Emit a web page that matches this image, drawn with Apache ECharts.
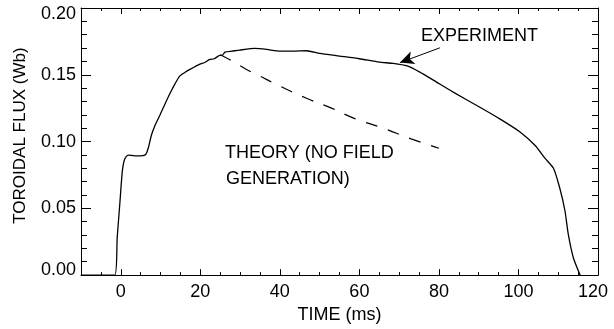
<!DOCTYPE html>
<html><head><meta charset="utf-8">
<script src="https://cdn.jsdelivr.net/npm/echarts@6/dist/echarts.min.js"></script>
<style>html,body{margin:0;padding:0;background:#fff}#c{width:614px;height:329px}</style>
</head><body><div id="c"></div>
<script>
// Experiment: toroidal flux (Wb) vs time (ms)
const expTime = [-10, -1.5, -0.9, -0.25, 0.4, 1.0, 1.85, 3.5, 5.6, 6.3, 6.9, 7.7, 8.55, 9.8, 11.1, 12.3, 13.6, 14.8, 16.1, 17.4, 19.9, 21.0, 22.4, 23.5, 24.9, 25.5, 26.2, 28.0, 29.9, 33.7, 36.7, 40.0, 43.4, 46.7, 50.0, 55.0, 60.0, 65.0, 68.5, 72.0, 75.2, 78.6, 83.6, 90.3, 95.3, 100.4, 104.2, 106.7, 108.8, 110.4, 111.7, 112.5, 113.8, 115.5];
const expFlux = [0, 0, 0.028, 0.053, 0.078, 0.087, 0.0899, 0.0893, 0.0895, 0.0904, 0.095, 0.1047, 0.1117, 0.1195, 0.128, 0.1356, 0.143, 0.149, 0.1517, 0.154, 0.158, 0.159, 0.1615, 0.162, 0.1645, 0.1645, 0.167, 0.1677, 0.1685, 0.1697, 0.169, 0.1677, 0.1677, 0.168, 0.166, 0.164, 0.162, 0.1595, 0.1585, 0.1566, 0.152, 0.146, 0.137, 0.1257, 0.117, 0.1072, 0.097, 0.0874, 0.080, 0.065, 0.048, 0.031, 0.013, 0];
// Theory (no field generation)
const theoryTime = [25, 28.2, 31.6, 35, 39, 47, 53, 59, 66, 73, 80];
const theoryFlux = [0.165, 0.160, 0.154, 0.149, 0.143, 0.132, 0.125, 0.117, 0.110, 0.102, 0.095];
// Arrow annotation (tail -> head), data coords
const arrowTail = [80.25, 0.1702];
const arrowHead = [70.2, 0.1591];
// Tick labels
const xTickLabels = ['0', '20', '40', '60', '80', '100', '120'];
const yTickLabels = ['0.00', '0.05', '0.10', '0.15', '0.20'];
const xAxisName = 'TIME (ms)';
const yAxisName = 'TOROIDAL FLUX (Wb)';
const notes = ['EXPERIMENT', 'THEORY (NO FIELD', 'GENERATION)'];

const FONT = '"Liberation Sans", Arial, Helvetica, sans-serif';
const BLACK = '#000';

const chart = echarts.init(document.getElementById('c'), null, {renderer: 'canvas'});

function xAxisBase(pos, showLabel) {
  return {
    type: 'value', position: pos, min: -10, max: 120, splitNumber: 6,
    axisLine: {show: true, onZero: false, lineStyle: {color: BLACK, width: 1}},
    axisTick: {show: true, inside: true, length: 6, lineStyle: {color: BLACK, width: 1}},
    minorTick: {show: true, splitNumber: 4, length: 3, lineStyle: {color: BLACK, width: 1}},
    splitLine: {show: false},
    axisLabel: {
      show: showLabel, showMinLabel: false, color: BLACK, fontSize: 18, fontFamily: FONT, margin: 8,
      formatter: function (v) {
        const i = Math.round(v / 20);
        if (Math.abs(v - i * 20) > 1e-6 || i < 0 || i >= xTickLabels.length) return '';
        const s = xTickLabels[i];
        return i === xTickLabels.length - 1 ? '{r|' + s + '}' : s;
      },
      rich: {r: {fontSize: 18, fontFamily: FONT, color: BLACK, padding: [0, 10, 0, 0]}}
    }
  };
}
function yAxisBase(pos, showLabel) {
  return {
    type: 'value', position: pos, min: 0, max: 0.2, interval: 0.05,
    axisLine: {show: true, onZero: false, lineStyle: {color: BLACK, width: 1}},
    axisTick: {show: true, inside: true, length: 10, lineStyle: {color: BLACK, width: 1}},
    minorTick: {show: true, splitNumber: 5, length: 6, lineStyle: {color: BLACK, width: 1}},
    splitLine: {show: false},
    axisLabel: {
      show: showLabel, color: BLACK, fontSize: 18, fontFamily: FONT, margin: 5,
      formatter: function (v) {
        const i = Math.round(v / 0.05);
        const s = yTickLabels[i];
        if (i === yTickLabels.length - 1) return '{t|' + s + '}';
        if (i === 0) return '{b|' + s + '}';
        return s;
      },
      rich: {
        t: {fontSize: 18, fontFamily: FONT, color: BLACK, padding: [13, 0, 0, 0]},
        b: {fontSize: 18, fontFamily: FONT, color: BLACK, padding: [0, 0, 10, 0]}
      }
    }
  };
}

const xBottom = Object.assign(xAxisBase('bottom', true), {
  name: xAxisName, nameLocation: 'middle', nameGap: 26,
  nameTextStyle: {color: BLACK, fontSize: 18, fontFamily: FONT}
});
const xTop = xAxisBase('top', false);
const yLeft = Object.assign(yAxisBase('left', true), {
  name: yAxisName, nameLocation: 'middle', nameGap: 52, nameRotate: 90,
  nameTextStyle: {color: BLACK, fontSize: 17, fontFamily: FONT, padding: [0, 0, 0, 12]}
});
const yRight = yAxisBase('right', false);

const option = {
  animation: false,
  backgroundColor: '#fff',
  grid: {left: 81, right: 16, top: 8, bottom: 52, containLabel: false},
  xAxis: [xBottom, xTop],
  yAxis: [yLeft, yRight],
  series: [
    {
      name: 'Experiment', type: 'line', xAxisIndex: 0, yAxisIndex: 0,
      data: expTime.map((t, i) => [t, expFlux[i]]),
      showSymbol: false, symbol: 'none', smooth: 0.2,
      lineStyle: {color: BLACK, width: 1.3},
      markLine: {
        silent: true, symbol: ['none', 'arrow'], symbolSize: [10, 14],
        label: {show: false},
        lineStyle: {color: BLACK, width: 1, type: 'solid'},
        data: [[{coord: arrowTail}, {coord: arrowHead}]]
      }
    },
    {
      name: 'Theory', type: 'line', xAxisIndex: 0, yAxisIndex: 0,
      data: theoryTime.map((t, i) => [t, theoryFlux[i]]),
      showSymbol: false, symbol: 'none', smooth: true,
      lineStyle: {color: BLACK, width: 1.2, type: [12, 11]}
    }
  ],
  graphic: [
    {type: 'text', x: 421, y: 36.5, style: {text: notes[0], fill: BLACK, font: '18px ' + FONT, textAlign: 'left', textVerticalAlign: 'middle'}},
    {type: 'text', x: 225, y: 153.3, style: {text: notes[1], fill: BLACK, font: '18px ' + FONT, textAlign: 'left', textVerticalAlign: 'middle'}},
    {type: 'text', x: 226, y: 178.7, style: {text: notes[2], fill: BLACK, font: '18px ' + FONT, textAlign: 'left', textVerticalAlign: 'middle'}}
  ]
};
chart.setOption(option);
</script>
</body></html>
